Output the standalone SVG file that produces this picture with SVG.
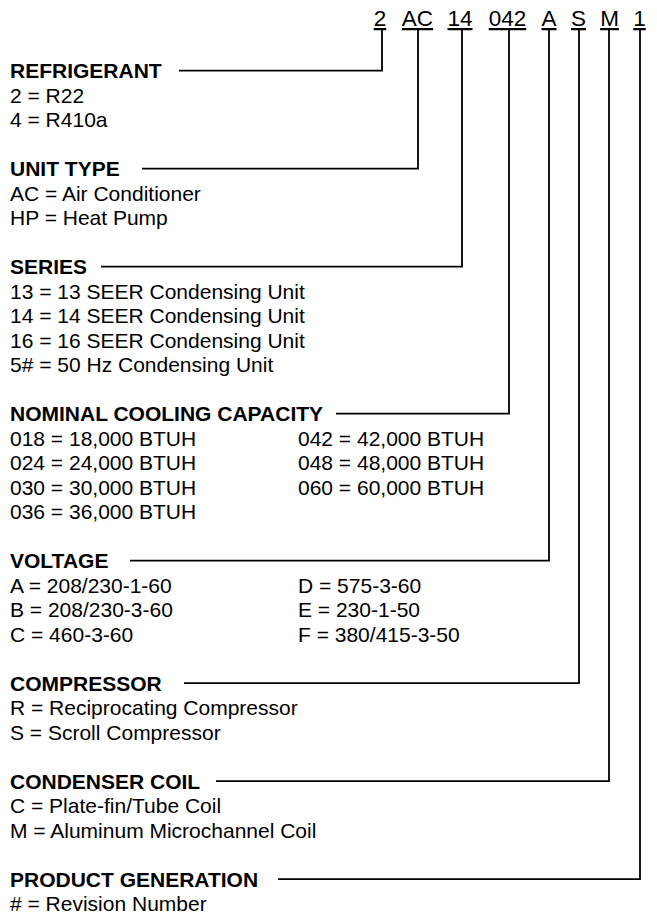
<svg xmlns="http://www.w3.org/2000/svg" width="657" height="916" viewBox="0 0 657 916">
<style>
text{font-family:"Liberation Sans",Arial,sans-serif;fill:#000}
.h{font-size:21px;font-weight:bold}
.t{font-size:21px}
.code{font-size:22.5px;text-decoration:underline;text-anchor:middle}
.c{fill:none;stroke:#000;stroke-width:1.8}
</style>
<rect width="657" height="916" fill="#fff"/>
<g id="model-code">
<text class="code" x="380" y="26">2</text>
<text class="code" x="417.5" y="26">AC</text>
<text class="code" x="460" y="26">14</text>
<text class="code" x="507.5" y="26">042</text>
<text class="code" x="549" y="26">A</text>
<text class="code" x="578.5" y="26">S</text>
<text class="code" x="609.5" y="26">M</text>
<text class="code" x="639.5" y="26">1</text>
</g>
<g id="connectors">
<path class="c" d="M382 30V70.7H179"/>
<path class="c" d="M418 30V168.7H142"/>
<path class="c" d="M462 30V266.7H101"/>
<path class="c" d="M509 30V413.7H336"/>
<path class="c" d="M549 30V560.7H130"/>
<path class="c" d="M579 30V683.2H184"/>
<path class="c" d="M609 30V781.2H216"/>
<path class="c" d="M640 30V879.2H278"/>
</g>
<g id="refrigerant">
<text class="h" x="10" y="78.2">REFRIGERANT</text>
<text class="t" x="10" y="102.7">2 = R22</text>
<text class="t" x="10" y="127.2">4 = R410a</text>
</g>
<g id="unit-type">
<text class="h" x="10" y="176.2">UNIT TYPE</text>
<text class="t" x="10" y="200.7">AC = Air Conditioner</text>
<text class="t" x="10" y="225.2">HP = Heat Pump</text>
</g>
<g id="series">
<text class="h" x="10" y="274.2">SERIES</text>
<text class="t" x="10" y="298.7">13 = 13 SEER Condensing Unit</text>
<text class="t" x="10" y="323.2">14 = 14 SEER Condensing Unit</text>
<text class="t" x="10" y="347.7">16 = 16 SEER Condensing Unit</text>
<text class="t" x="10" y="372.2">5# = 50 Hz Condensing Unit</text>
</g>
<g id="nominal-cooling-capacity">
<text class="h" x="10" y="421.2">NOMINAL COOLING CAPACITY</text>
<text class="t" x="10" y="445.7">018 = 18,000 BTUH</text>
<text class="t" x="10" y="470.2">024 = 24,000 BTUH</text>
<text class="t" x="10" y="494.7">030 = 30,000 BTUH</text>
<text class="t" x="10" y="519.2">036 = 36,000 BTUH</text>
<text class="t" x="298" y="445.7">042 = 42,000 BTUH</text>
<text class="t" x="298" y="470.2">048 = 48,000 BTUH</text>
<text class="t" x="298" y="494.7">060 = 60,000 BTUH</text>
</g>
<g id="voltage">
<text class="h" x="10" y="568.2">VOLTAGE</text>
<text class="t" x="10" y="592.7">A = 208/230-1-60</text>
<text class="t" x="10" y="617.2">B = 208/230-3-60</text>
<text class="t" x="10" y="641.7">C = 460-3-60</text>
<text class="t" x="298" y="592.7">D = 575-3-60</text>
<text class="t" x="298" y="617.2">E = 230-1-50</text>
<text class="t" x="298" y="641.7">F = 380/415-3-50</text>
</g>
<g id="compressor">
<text class="h" x="10" y="690.7">COMPRESSOR</text>
<text class="t" x="10" y="715.2">R = Reciprocating Compressor</text>
<text class="t" x="10" y="739.7">S = Scroll Compressor</text>
</g>
<g id="condenser-coil">
<text class="h" x="10" y="788.7">CONDENSER COIL</text>
<text class="t" x="10" y="813.2">C = Plate-fin/Tube Coil</text>
<text class="t" x="10" y="837.7">M = Aluminum Microchannel Coil</text>
</g>
<g id="product-generation">
<text class="h" x="10" y="886.7">PRODUCT GENERATION</text>
<text class="t" x="10" y="911.2"># = Revision Number</text>
</g>
</svg>
